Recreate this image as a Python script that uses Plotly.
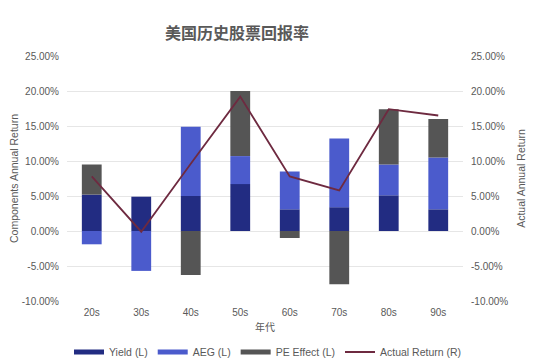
import plotly.graph_objects as go

decades = ["20s", "30s", "40s", "50s", "60s", "70s", "80s", "90s"]
yield_l = [5.2, 4.9, 5.0, 6.7, 3.1, 3.4, 5.1, 3.1]
aeg_l = [-1.9, -5.7, 9.9, 4.0, 5.4, 9.8, 4.4, 7.4]
pe_l = [4.3, 0.0, -6.3, 9.3, -1.0, -7.6, 7.9, 5.5]
actual_r = [7.8, -0.1, 9.6, 19.2, 7.8, 5.8, 17.4, 16.5]
tick_vals = [-10, -5, 0, 5, 10, 15, 20, 25]
tick_text = ["-10.00%", "-5.00%", "0.00%", "5.00%", "10.00%", "15.00%", "20.00%", "25.00%"]

C_YIELD = "#222c82"
C_AEG = "#4b5bcc"
C_PE = "#555555"
C_LINE = "#6e2a40"
TXT = "#595959"
FONT = "Liberation Sans, Arial, sans-serif"

fig = go.Figure()
for name, vals, col in [("Yield (L)", yield_l, C_YIELD), ("AEG (L)", aeg_l, C_AEG), ("PE Effect (L)", pe_l, C_PE)]:
    fig.add_trace(go.Bar(x=decades, y=vals, name=name, marker=dict(color=col, line=dict(width=0)),
                         showlegend=False, yaxis="y"))
    fig.add_trace(go.Scatter(x=[None], y=[None], mode="lines", name=name, line=dict(color=col, width=5), showlegend=True))

fig.add_trace(go.Scatter(x=decades, y=actual_r, name="Actual Return (R)", mode="lines",
                         line=dict(color=C_LINE, width=1.8), yaxis="y2"))

axis_common = dict(range=[-10, 25], tickvals=tick_vals, ticktext=tick_text, ticks="", showline=False,
                   tickfont=dict(size=10), automargin=False, ticklabelstandoff=7)

fig.update_layout(
    width=540, height=361,
    paper_bgcolor="white", plot_bgcolor="white",
    barmode="relative", bargap=0.6,
    margin=dict(l=67, r=77, t=56, b=60),
    font=dict(family=FONT, color=TXT, size=10),
    title=dict(text="<b>美国历史股票回报率</b>", x=237 / 540, xanchor="center", y=1 - 33 / 361, yanchor="middle",
               font=dict(family="Noto Sans CJK SC", size=16, color=TXT)),
    xaxis=dict(title=dict(text="年代", font=dict(size=10, family="Noto Sans CJK SC"), standoff=6), showgrid=False,
               showline=False, ticks="", tickfont=dict(size=10), automargin=False, ticklabelstandoff=4),
    yaxis=dict(**axis_common, showgrid=True, gridcolor="#e6e6e6", zeroline=True, zerolinecolor="#e6e6e6",
               zerolinewidth=1, title=dict(text="Components Annual Return", font=dict(size=10.5), standoff=1)),
    yaxis2=dict(**axis_common, overlaying="y", side="right", showgrid=False, zeroline=False,
                title=dict(text="Actual Annual Return", font=dict(size=10.5), standoff=10)),
    legend=dict(orientation="h", xref="container", yref="container", x=268 / 540, xanchor="center",
                y=1 - 352 / 361, yanchor="middle", font=dict(size=10.5), itemwidth=30, traceorder="normal"),
)

fig.write_html("out.html", config={"displayModeBar": False},
               post_script="document.body.style.margin='0';document.body.style.overflow='hidden';")
